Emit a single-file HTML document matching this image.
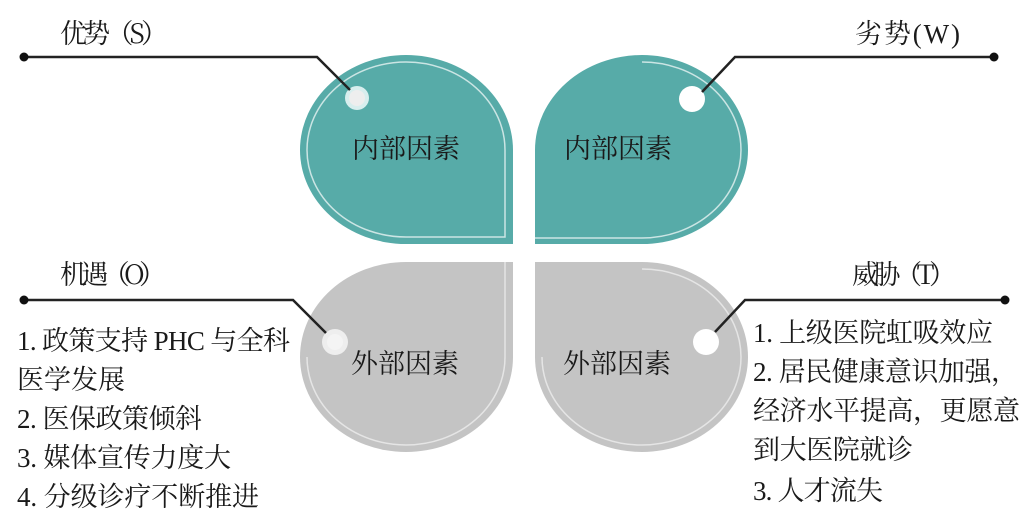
<!DOCTYPE html>
<html><head><meta charset="utf-8"><style>
html,body{margin:0;padding:0;background:#fff;}
svg{display:block;}
text{font-family:"Liberation Serif","Noto Serif CJK SC",serif;fill:#1a1a1a;font-size:27px;}
text.t{font-family:"Noto Serif CJK SC","Liberation Serif",serif;}
</style></head><body>
<svg width="1030" height="526" viewBox="0 0 1030 526">
<path d="M300 150 A106 95 0 0 1 406 55 A107 95 0 0 1 513 150 L513 244 L406 244 A106 94 0 0 1 300 150 Z" fill="#57aba8"/>
<path d="M307 150 A99 88 0 0 1 406 62 A99 88 0 0 1 505 150 L505 237 L406 237 A99 87 0 0 1 307 150" fill="none" stroke="#e8f4f3" stroke-width="1.5" opacity="0.8"/>
<path d="M535 55 L642 55 A106 95 0 0 1 748 150 A106 94 0 0 1 642 244 L535 244 L535 150 A107 95 0 0 1 642 55 Z" fill="#57aba8"/>
<path d="M535 238 L642 238 A99 88 0 0 0 741 150 A99 88 0 0 0 642 62" fill="none" stroke="#e8f4f3" stroke-width="1.5" opacity="0.8"/>
<path d="M300 357 A106 95 0 0 1 406 262 L513 262 L513 357 A107 95 0 0 1 406 452 A106 95 0 0 1 300 357 Z" fill="#c4c4c4"/>
<path d="M505 262 L505 357 A99 88 0 0 1 406 445 A99 88 0 0 1 307 357" fill="none" stroke="#eee" stroke-width="1.5" opacity="0.8"/>
<path d="M535 262 L642 262 A106 95 0 0 1 748 357 A106 95 0 0 1 642 452 A107 95 0 0 1 535 357 Z" fill="#c4c4c4"/>
<path d="M642 269 A99 88 0 0 1 741 357 A99 88 0 0 1 642 445 A99 88 0 0 1 542 357" fill="none" stroke="#eee" stroke-width="1.5" opacity="0.8"/>

<circle cx="357" cy="98" r="12" fill="#d8eeee"/><circle cx="357" cy="98" r="8" fill="#eee"/>
<circle cx="692" cy="99" r="13" fill="#fff"/>
<circle cx="335" cy="342" r="13" fill="#eee"/><circle cx="335" cy="342" r="8" fill="#f4f4f4"/>
<circle cx="706" cy="342" r="13" fill="#fff"/>

<g stroke="#222" stroke-width="2.5" fill="none">
<polyline points="23,57 317,57 350,90"/>
<polyline points="995,57 735,57 702,92"/>
<polyline points="23,300 293,300 326,333"/>
<polyline points="1005,300 745,300 715,332"/>
</g>
<g fill="#111">
<circle cx="24" cy="57" r="4.5"/><circle cx="994" cy="57" r="4.5"/>
<circle cx="24" cy="300" r="4.5"/><circle cx="1005" cy="300" r="4.5"/>
</g>

<text class="t" x="60" y="43" textLength="108">优势（S）</text>
<text x="855" y="43" textLength="105">劣势(W)</text>
<text class="t" x="60" y="284" textLength="106">机遇（O）</text>
<text class="t" x="852" y="284" textLength="104">威胁（T）</text>

<text x="406" y="158" text-anchor="middle">内部因素</text>
<text x="618" y="158" text-anchor="middle">内部因素</text>
<text x="405" y="373" text-anchor="middle">外部因素</text>
<text x="617" y="373" text-anchor="middle">外部因素</text>

<text x="17" y="350" textLength="273">1. 政策支持 PHC 与全科</text>
<text x="17" y="389" textLength="108">医学发展</text>
<text x="17" y="428" textLength="185">2. 医保政策倾斜</text>
<text x="17" y="467" textLength="214">3. 媒体宣传力度大</text>
<text x="17" y="506" textLength="242">4. 分级诊疗不断推进</text>

<text x="753" y="342" textLength="240">1. 上级医院虹吸效应</text>
<text x="753" y="381" textLength="265">2. 居民健康意识加强，</text>
<text x="753" y="420" textLength="267">经济水平提高，更愿意</text>
<text x="753" y="459" textLength="160">到大医院就诊</text>
<text x="753" y="500" textLength="130">3. 人才流失</text>
</svg>
</body></html>
